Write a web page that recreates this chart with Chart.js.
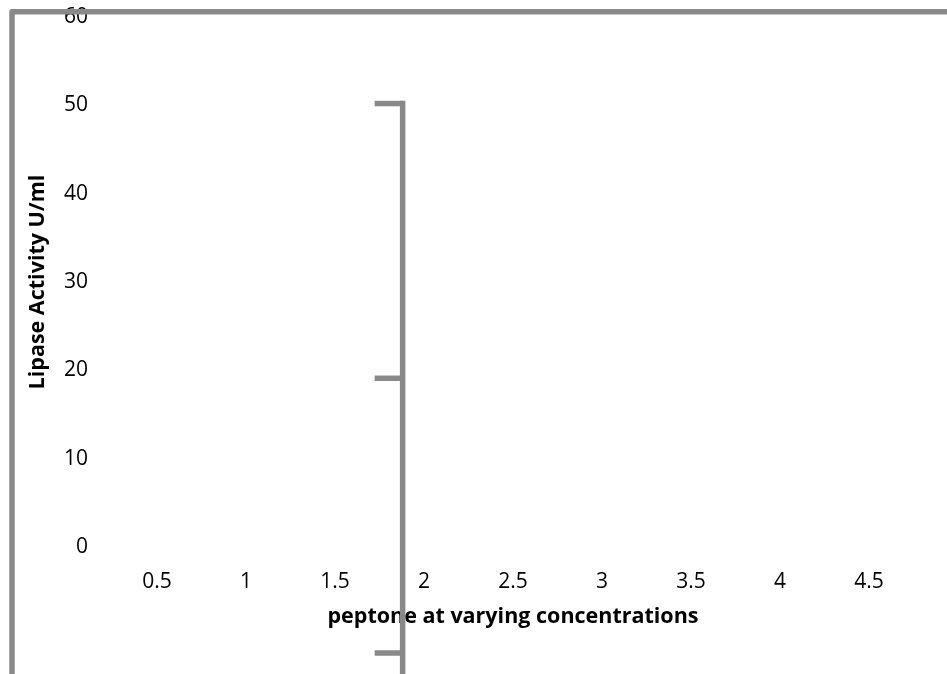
<!DOCTYPE html>
<html>
<head>
<meta charset="utf-8">
<script src="https://cdn.jsdelivr.net/npm/chart.js@4.4.1/dist/chart.umd.min.js"></script>
<style>
  html, body { margin: 0; padding: 0; background: #fff; }
  #wrap { width: 947px; height: 674px; position: relative; }
</style>
</head>
<body>
<div id="wrap"><canvas id="c" width="947" height="674"></canvas></div>
<script>
// ---- data ----
const xTickValues = [0.5, 1, 1.5, 2, 2.5, 3, 3.5, 4, 4.5];
const yTickValues = [0, 10, 20, 30, 40, 50, 60];
const pointX = [1.88];
const pointY = [19.1];
const pointErr = [31.1];
const xTitle = 'peptone at varying concentrations';
const yTitle = 'Lipase Activity U/ml';

const GRAY = '#898989';
const FONT = "'Open Sans', 'Liberation Sans', sans-serif";

const frameAndErrorBars = {
  id: 'frameAndErrorBars',
  beforeDraw(chart) {
    const ctx = chart.ctx;
    ctx.save();
    ctx.fillStyle = '#fff';
    ctx.fillRect(0, 0, chart.width, chart.height);
    ctx.restore();
  },
  afterDraw(chart) {
    const ctx = chart.ctx;
    ctx.save();
    ctx.strokeStyle = GRAY;
    ctx.lineWidth = 5.5;
    ctx.lineJoin = 'round';
    ctx.beginPath();
    ctx.moveTo(12, chart.height + 5);
    ctx.lineTo(12, 11.7);
    ctx.lineTo(chart.width + 5, 11.7);
    ctx.stroke();
    ctx.restore();
  },
  afterDatasetsDraw(chart) {
    const ctx = chart.ctx;
    const xs = chart.scales.x, ys = chart.scales.y;
    ctx.save();
    ctx.strokeStyle = GRAY;
    ctx.lineWidth = 5.5;
    ctx.lineCap = 'butt';
    const capLen = 28;
    pointX.forEach((xv, i) => {
      const px = xs.getPixelForValue(xv);
      const yTop = ys.getPixelForValue(pointY[i] + pointErr[i]);
      const yMid = ys.getPixelForValue(pointY[i]);
      const yBot = ys.getPixelForValue(pointY[i] - pointErr[i]);
      ctx.beginPath();
      ctx.moveTo(px, yTop - 2.75);
      ctx.lineTo(px, chart.height);
      ctx.stroke();
      [yTop, yMid, yBot].forEach(yy => {
        ctx.beginPath();
        ctx.moveTo(px - capLen, yy);
        ctx.lineTo(px, yy);
        ctx.stroke();
      });
    });
    ctx.restore();
  }
};

new Chart(document.getElementById('c'), {
  type: 'scatter',
  data: {
    datasets: [{
      data: pointX.map((x, i) => ({ x: x, y: pointY[i] })),
      pointRadius: 0,
      showLine: false
    }]
  },
  options: {
    responsive: false,
    animation: false,
    devicePixelRatio: 1,
    layout: { padding: { top: 17, right: 33.5, bottom: 0, left: 0 } },
    plugins: { legend: { display: false }, tooltip: { enabled: false } },
    scales: {
      x: {
        type: 'linear',
        min: 0.25,
        max: 4.75,
        afterBuildTicks: (s) => { s.ticks = xTickValues.map(v => ({ value: v })); },
        afterFit: (s) => { s.height = 127; s.paddingLeft = 0; s.paddingRight = 0; },
        grid: { display: false, drawTicks: false },
        border: { display: false },
        ticks: {
          color: '#000',
          padding: 22,
          maxRotation: 0,
          autoSkip: false,
          font: { family: FONT, size: 21 },
          callback: (v) => String(v)
        },
        title: {
          display: true,
          text: xTitle,
          color: '#000',
          padding: { top: 0, bottom: 44 },
          font: { family: FONT, size: 21.5, weight: 'bold' }
        }
      },
      y: {
        min: 0,
        max: 60,
        afterBuildTicks: (s) => { s.ticks = yTickValues.map(v => ({ value: v })); },
        afterFit: (s) => { s.width = 112.5; s.paddingTop = 0; s.paddingBottom = 0; },
        grid: { display: false, drawTicks: false },
        border: { display: false },
        ticks: {
          color: '#000',
          padding: 24.5,
          font: { family: FONT, size: 21 }
        },
        title: {
          display: true,
          text: yTitle,
          color: '#000',
          padding: { top: 25, bottom: 0 },
          font: { family: FONT, size: 21.5, weight: 'bold' }
        }
      }
    }
  },
  plugins: [frameAndErrorBars]
});
</script>
</body>
</html>
